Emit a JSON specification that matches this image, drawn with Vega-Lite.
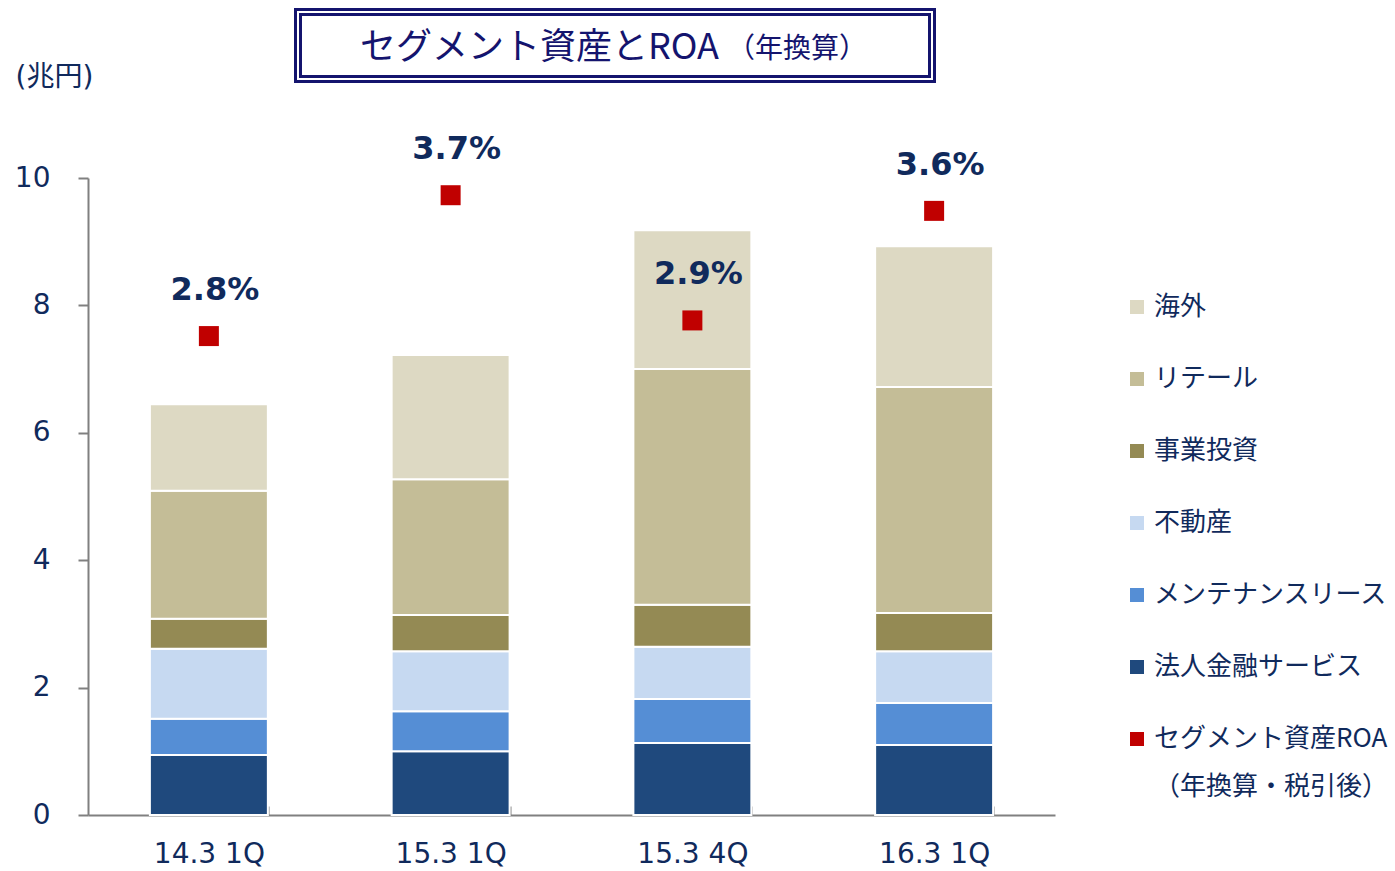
{
  "$schema": "https://vega.github.io/schema/vega-lite/v6.json",
  "background": "white",
  "padding": {"left": 14, "top": 8, "right": 5, "bottom": 5},
  "config": {"view": {"stroke": null}, "font": "DejaVu Sans, Noto Sans CJK JP", "style": {"guide-label": {"lineHeight": 48}}},
  "datasets": {
    "bars": [
      {"q": "14.3 1Q", "seg": "法人金融サービス", "v": 0.94, "o": 1},
      {"q": "14.3 1Q", "seg": "メンテナンスリース", "v": 0.57, "o": 2},
      {"q": "14.3 1Q", "seg": "不動産", "v": 1.10, "o": 3},
      {"q": "14.3 1Q", "seg": "事業投資", "v": 0.47, "o": 4},
      {"q": "14.3 1Q", "seg": "リテール", "v": 2.01, "o": 5},
      {"q": "14.3 1Q", "seg": "海外", "v": 1.36, "o": 6},
      {"q": "15.3 1Q", "seg": "法人金融サービス", "v": 1.00, "o": 1},
      {"q": "15.3 1Q", "seg": "メンテナンスリース", "v": 0.63, "o": 2},
      {"q": "15.3 1Q", "seg": "不動産", "v": 0.94, "o": 3},
      {"q": "15.3 1Q", "seg": "事業投資", "v": 0.57, "o": 4},
      {"q": "15.3 1Q", "seg": "リテール", "v": 2.13, "o": 5},
      {"q": "15.3 1Q", "seg": "海外", "v": 1.95, "o": 6},
      {"q": "15.3 4Q", "seg": "法人金融サービス", "v": 1.13, "o": 1},
      {"q": "15.3 4Q", "seg": "メンテナンスリース", "v": 0.69, "o": 2},
      {"q": "15.3 4Q", "seg": "不動産", "v": 0.82, "o": 3},
      {"q": "15.3 4Q", "seg": "事業投資", "v": 0.66, "o": 4},
      {"q": "15.3 4Q", "seg": "リテール", "v": 3.70, "o": 5},
      {"q": "15.3 4Q", "seg": "海外", "v": 2.18, "o": 6},
      {"q": "16.3 1Q", "seg": "法人金融サービス", "v": 1.10, "o": 1},
      {"q": "16.3 1Q", "seg": "メンテナンスリース", "v": 0.66, "o": 2},
      {"q": "16.3 1Q", "seg": "不動産", "v": 0.81, "o": 3},
      {"q": "16.3 1Q", "seg": "事業投資", "v": 0.60, "o": 4},
      {"q": "16.3 1Q", "seg": "リテール", "v": 3.55, "o": 5},
      {"q": "16.3 1Q", "seg": "海外", "v": 2.21, "o": 6}
    ],
    "roa": [
      {"q": "14.3 1Q", "roa": 2.8, "label": "2.8%"},
      {"q": "15.3 1Q", "roa": 3.7, "label": "3.7%"},
      {"q": "15.3 4Q", "roa": 2.9, "label": "2.9%"},
      {"q": "16.3 1Q", "roa": 3.6, "label": "3.6%"}
    ]
  },
  "bounds": "flush",
  "spacing": 166,
  "vconcat": [
    {
      "bounds": "flush",
      "spacing": 0,
      "hconcat": [
        {"width": 210, "height": 67, "data": {"values": []}, "mark": "text"},
        {
          "width": 634,
          "height": 67,
          "data": {"values": [{"a": "セグメント資産とROA", "b": "（年換算）"}]},
          "layer": [
            {"mark": {"type": "rect", "fill": "white", "stroke": "#14146e", "strokeWidth": 8}},
            {"mark": {"type": "rect", "fill": null, "fillOpacity": 0, "stroke": "white", "strokeWidth": 2}},
            {"mark": {"type": "text", "align": "right", "baseline": "middle", "dx": 104, "dy": 2, "fontSize": 36, "font": "Noto Sans CJK JP", "color": "#14146e"},
             "encoding": {"text": {"field": "a"}}},
            {"mark": {"type": "text", "align": "left", "baseline": "middle", "dx": 112, "dy": 4, "fontSize": 28, "font": "Noto Sans CJK JP", "color": "#14146e"},
             "encoding": {"text": {"field": "b"}}}
          ]
        }
      ]
    },
    {
      "width": 967,
      "height": 637,
      "layer": [
        {
          "data": {"name": "bars"},
          "mark": {"type": "bar", "stroke": "white", "strokeWidth": 2},
          "encoding": {
            "x": {"field": "q", "type": "nominal", "sort": null,
                  "scale": {"paddingInner": 0.512, "paddingOuter": 0.256},
                  "axis": {"title": null, "labelAngle": 0, "labelFontSize": 28, "labelColor": "#102a5c",
                           "tickBand": "extent", "tickSize": -9, "tickColor": "#808080", "tickWidth": 2,
                           "domainColor": "#808080", "domainWidth": 2, "labelPadding": 34, "grid": false}},
            "y": {"field": "v", "type": "quantitative", "stack": "zero",
                  "scale": {"domain": [0, 10], "nice": false},
                  "axis": {"values": [0, 2, 4, 6, 8, 10], "title": "(兆円)", "titleAngle": 0, "titleAlign": "left",
                           "titleBaseline": "alphabetic", "titleX": -73, "titleY": -93, "titleFontSize": 28,
                           "titleFontWeight": "normal", "titleColor": "#102a5c",
                           "labelFontSize": 28, "labelColor": "#102a5c", "labelPadding": 28,
                           "tickSize": 10, "tickColor": "#808080", "tickWidth": 2,
                           "domainColor": "#808080", "domainWidth": 2, "grid": false}},
            "color": {"field": "seg", "type": "nominal",
                      "scale": {"domain": ["海外", "リテール", "事業投資", "不動産", "メンテナンスリース", "法人金融サービス", "セグメント資産ROA"],
                                "range": ["#ddd9c3", "#c4bd97", "#948a54", "#c6d9f1", "#558ed5", "#1f497d", "#c00000"]},
                      "legend": {"orient": "none", "legendX": 1036, "legendY": 282, "title": null,
                                 "symbolType": "square", "symbolSize": 196, "symbolStrokeWidth": 0,
                                 "labelFontSize": 26, "labelFont": "Noto Sans CJK JP", "labelColor": "#102a5c",
                                 "rowPadding": 46, "labelOffset": 4, "labelLimit": 400,
                                 "labelExpr": "datum.label == 'セグメント資産ROA' ? ['セグメント資産ROA', '（年換算・税引後）'] : datum.label"}},
            "order": {"field": "o", "type": "quantitative"}
          }
        },
        {
          "data": {"name": "roa"},
          "encoding": {
            "x": {"field": "q", "type": "nominal", "sort": null},
            "y": {"field": "roa", "type": "quantitative", "scale": {"domain": [-0.26, 3.81], "nice": false, "zero": false}, "axis": null}
          },
          "layer": [
            {"mark": {"type": "point", "shape": "square", "filled": true, "size": 400, "opacity": 1},
             "encoding": {"color": {"datum": "セグメント資産ROA"}}},
            {"mark": {"type": "text", "dy": -46, "dx": 6, "fontSize": 32, "fontWeight": "bold", "color": "#102a5c"},
             "encoding": {"text": {"field": "label"}}}
          ]
        }
      ],
      "resolve": {"scale": {"y": "independent"}}
    }
  ]
}
